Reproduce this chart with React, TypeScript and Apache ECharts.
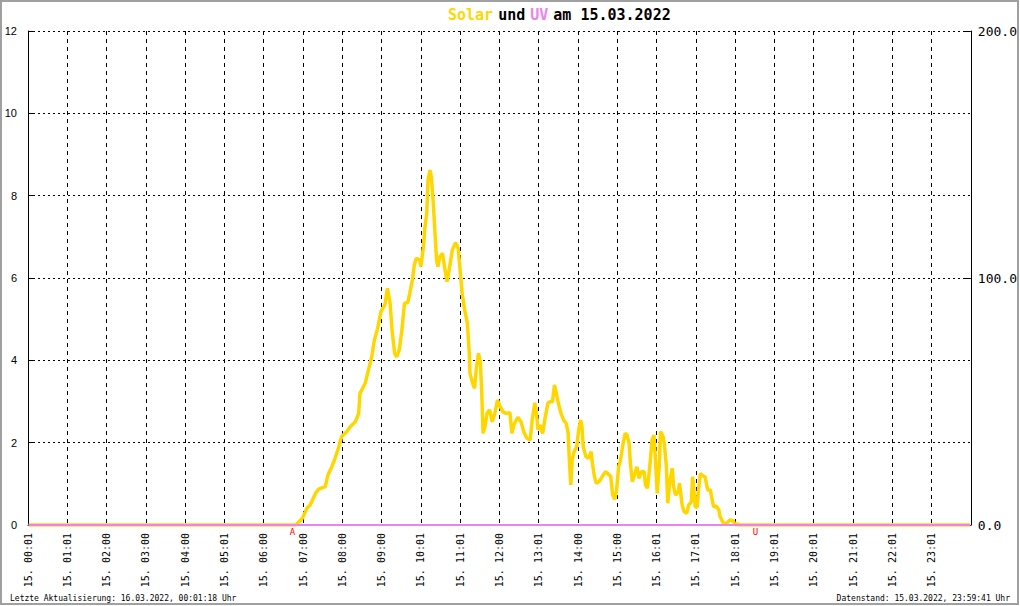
import React, { useEffect, useRef } from "react";
import * as echarts from "echarts";

const solarTimes = [
  "00:01", "06:44", "06:49", "06:59", "07:06", "07:11", "07:19", "07:24", "07:34", "07:38", "07:44", "07:49", "07:54", "07:59",
  "08:07", "08:12", "08:20", "08:25", "08:27", "08:35", "08:40", "08:45", "08:49", "08:54", "08:59",
  "09:05", "09:09", "09:13", "09:16", "09:20", "09:23", "09:27", "09:31", "09:35", "09:40", "09:43", "09:47", "09:50", "09:53", "09:58",
  "10:00", "10:04", "10:06", "10:09", "10:11", "10:14", "10:16", "10:19", "10:21", "10:24", "10:26", "10:29", "10:33", "10:37", "10:40", "10:44", "10:48", "10:53", "10:57", "10:59",
  "11:03", "11:07", "11:11", "11:14", "11:15", "11:19", "11:22", "11:25", "11:28", "11:31", "11:33", "11:35", "11:38", "11:41", "11:45", "11:49", "11:53", "11:57",
  "12:00", "12:05", "12:10", "12:16", "12:19", "12:22", "12:28", "12:33", "12:37", "12:42", "12:47", "12:50", "12:54", "12:56", "12:59",
  "13:02", "13:06", "13:10", "13:14", "13:17", "13:21", "13:24", "13:27", "13:30", "13:34", "13:38", "13:42", "13:45", "13:47", "13:49", "13:51", "13:54", "13:58",
  "14:01", "14:04", "14:06", "14:08", "14:12", "14:16", "14:20", "14:22", "14:25", "14:28", "14:32", "14:37", "14:42", "14:48", "14:50", "14:53", "14:56", "14:59",
  "15:02", "15:05", "15:08", "15:12", "15:15", "15:18", "15:20", "15:23", "15:26", "15:30", "15:33", "15:37", "15:41", "15:43", "15:46", "15:48", "15:51", "15:53", "15:56", "15:58",
  "16:01", "16:04", "16:06", "16:10", "16:12", "16:15", "16:17", "16:20", "16:24", "16:26", "16:29", "16:33", "16:35", "16:39", "16:42", "16:46", "16:49", "16:53", "16:55", "16:57", "16:59",
  "17:02", "17:04", "17:07", "17:11", "17:14", "17:18", "17:22", "17:25", "17:27", "17:31", "17:35", "17:37", "17:42", "17:47", "17:52", "17:57",
  "18:00", "18:04", "18:06", "23:59",
];

const solarValues = [
  0, 0, 0, 2.7, 6.8, 8.1, 12.8, 14.5, 15.5, 20.2, 23.6, 27.0, 31.1, 35.8,
  37.8, 39.8, 41.8, 45.2, 53.3, 57.4, 62.8, 68.1, 74.9, 79.6, 86.4,
  89.1, 95.8, 89.8, 78.9, 69.5, 68.1, 70.9, 78.9, 89.8, 90.0, 93.8, 99.2, 105.3, 108.0, 107.3,
  104.6, 112.7, 120.1, 126.2, 139.7, 143.7, 141.0, 130.2, 120.8, 107.3, 104.6, 108.6, 110.0, 103.2, 98.5, 104.6, 111.3, 114.3, 112.0, 106.0,
  93.8, 87.0, 81.7, 69.5, 61.4, 57.4, 55.3, 64.1, 69.5, 65.5, 53.3, 37.1, 39.8, 45.2, 46.6, 41.8, 45.2, 50.6,
  48.6, 45.9, 45.2, 45.5, 37.1, 40.5, 43.6, 41.8, 37.8, 35.1, 34.4, 42.5, 49.5, 46.6, 38.5,
  40.5, 37.1, 43.8, 49.3, 49.9, 49.9, 56.7, 53.3, 49.3, 45.2, 42.5, 41.2, 37.1, 25.0, 16.2, 26.3, 29.7, 31.7,
  38.5, 42.5, 39.8, 31.7, 27.7, 27.0, 29.7, 25.0, 19.6, 16.9, 17.5, 19.6, 21.6, 20.2, 19.6, 12.1, 10.4, 14.2,
  23.6, 26.3, 31.7, 37.1, 36.4, 33.1, 25.0, 17.5, 20.2, 23.6, 18.9, 21.6, 21.6, 16.2, 14.9, 19.6, 27.7, 34.4, 36.4, 27.7,
  12.8, 23.6, 37.8, 35.8, 32.4, 23.6, 8.8, 16.9, 23.0, 15.5, 12.1, 13.5, 16.9, 8.1, 5.4, 4.7, 8.1, 9.4, 19.6, 14.2, 7.4,
  7.2, 14.2, 20.9, 19.8, 19.6, 14.2, 14.2, 10.1, 7.4, 7.7, 6.1, 3.4, 0.7, 0.7, 2.0, 1.7,
  0, 0.4, 0, 0,
];

const uvTimes = ["00:01", "06:00", "12:00", "18:00", "23:59"];
const uvValues = [0, 0, 0, 0, 0];

const hourLabels = [
  "15. 00:01", "15. 01:01", "15. 02:00", "15. 03:00", "15. 04:00", "15. 05:01",
  "15. 06:00", "15. 07:00", "15. 08:00", "15. 09:00", "15. 10:01", "15. 11:01",
  "15. 12:00", "15. 13:01", "15. 14:00", "15. 15:00", "15. 16:01", "15. 17:01",
  "15. 18:01", "15. 19:01", "15. 20:01", "15. 21:01", "15. 22:01", "15. 23:01",
];

const sunEvents = [
  { label: "A", time: "06:44" },
  { label: "U", time: "18:31" },
];

const titleSolar = "Solar";
const titleUnd = "und";
const titleUV = "UV";
const titleRest = "am 15.03.2022";
const footerLeft = "Letzte Aktualisierung: 16.03.2022, 00:01:18 Uhr";
const footerRight = "Datenstand: 15.03.2022, 23:59:41 Uhr";

const toMin = (t: string) => {
  const [h, m] = t.split(":").map(Number);
  return h * 60 + m;
};

const GOLD = "#FFD700";
const VIOLET = "#EE82EE";
const MONO = "'DejaVu Sans Mono', monospace";

export default function App() {
  const ref = useRef<HTMLDivElement>(null);

  useEffect(() => {
    document.body.style.margin = "0";
    if (!ref.current) return;
    const chart = echarts.init(ref.current, null, { renderer: "svg" });

    const solarData = solarTimes.map((t, i) => [toMin(t), solarValues[i]]);
    const uvData = uvTimes.map((t, i) => [toMin(t), uvValues[i]]);

    chart.setOption({
      animation: false,
      backgroundColor: "#fff",
      title: {
        left: 443,
        top: 1,
        text: `{s|${titleSolar}} {n|${titleUnd}} {u|${titleUV}} {n|${titleRest}}`,
        textStyle: {
          rich: {
            s: { color: GOLD, fontFamily: MONO, fontSize: 15 },
            u: { color: VIOLET, fontFamily: MONO, fontSize: 15 },
            n: { color: "#000", fontFamily: MONO, fontSize: 15 },
          },
        },
      },
      grid: { left: 28, right: 45, top: 31, bottom: 81, containLabel: false },
      xAxis: {
        type: "value",
        min: 0,
        max: 1440,
        interval: 60,
        axisLine: { show: true, lineStyle: { color: "#000" } },
        axisTick: { show: false },
        axisLabel: {
          rotate: 90,
          margin: 8,
          fontFamily: MONO,
          fontSize: 10,
          color: "#000",
          showMaxLabel: false,
          formatter: (v: number) => hourLabels[Math.round(v / 60)] ?? "",
        },
        splitLine: { show: true, lineStyle: { color: "#000", type: [4, 4], width: 1 } },
      },
      yAxis: [
        {
          type: "value",
          min: 0,
          max: 12,
          interval: 2,
          position: "left",
          axisLine: { show: true, lineStyle: { color: "#000" } },
          axisTick: { show: true, inside: true, length: 5, lineStyle: { color: "#000" } },
          axisLabel: { margin: 11, fontFamily: "'Liberation Sans', Arial, sans-serif", fontSize: 11, color: "#000" },
          splitLine: { show: true, lineStyle: { color: "#000", type: [2, 3], width: 1 } },
        },
        {
          type: "value",
          min: 0,
          max: 200,
          interval: 100,
          position: "right",
          axisLine: { show: true, lineStyle: { color: "#000" } },
          axisTick: { show: true, inside: true, length: 6, lineStyle: { color: "#000" } },
          axisLabel: {
            margin: 7,
            fontFamily: MONO,
            fontSize: 13,
            color: "#000",
            formatter: (v: number) => v.toFixed(1),
          },
          splitLine: { show: false },
        },
      ],
      series: [
        {
          name: "Solar",
          type: "line",
          yAxisIndex: 1,
          data: solarData,
          showSymbol: false,
          symbol: "none",
          lineStyle: { color: GOLD, width: 3.5 },
          itemStyle: { color: GOLD },
          z: 2,
        },
        {
          name: "UV",
          type: "line",
          yAxisIndex: 0,
          data: uvData,
          showSymbol: false,
          symbol: "none",
          lineStyle: { color: VIOLET, width: 2 },
          itemStyle: { color: VIOLET },
          z: 3,
          markPoint: {
            symbol: "circle",
            symbolSize: 0,
            itemStyle: { color: "transparent" },
            label: {
              show: true,
              position: "bottom",
              distance: 2,
              formatter: "{b}",
              color: "#ff0000",
              fontFamily: MONO,
              fontSize: 9,
            },
            data: sunEvents.map((e) => ({ name: e.label, coord: [toMin(e.time), 0] })),
          },
        },
      ],
      graphic: [
        {
          type: "text",
          left: 10,
          top: 594,
          style: { text: footerLeft, fill: "#000", font: `8px ${MONO}` },
        },
        {
          type: "text",
          right: 10,
          top: 594,
          style: { text: footerRight, fill: "#000", font: `8px ${MONO}` },
        },
        {
          type: "rect",
          z: 100,
          shape: { x: 1, y: 1, width: 1017, height: 603 },
          style: { fill: "none", stroke: "#a0a0a0", lineWidth: 2 },
        },
      ],
    });

    return () => chart.dispose();
  }, []);

  return <div ref={ref} style={{ width: 1020, height: 606 }} />;
}
